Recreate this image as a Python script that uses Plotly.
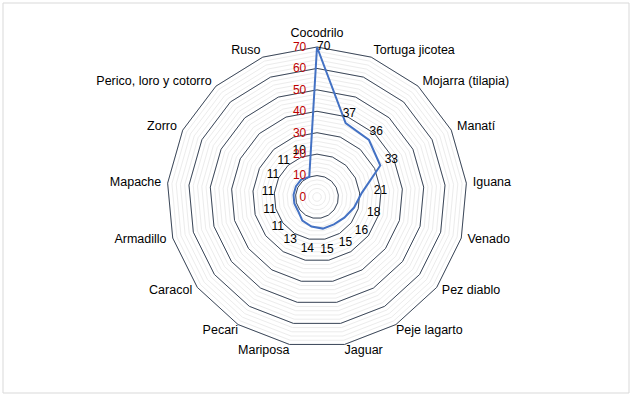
import numpy as np
import plotly.graph_objects as go

categories = ["Cocodrilo", "Tortuga jicotea", "Mojarra (tilapia)", "Manatí", "Iguana",
              "Venado", "Pez diablo", "Peje lagarto", "Jaguar", "Mariposa", "Pecari",
              "Caracol", "Armadillo", "Mapache", "Zorro", "Perico, loro y cotorro", "Ruso"]
values = [70, 37, 36, 33, 21, 18, 16, 15, 15, 14, 13, 11, 11, 11, 11, 11, 10]
major_ticks = [0, 10, 20, 30, 40, 50, 60, 70]
minor_step = 2
r_max = 70

FONT = "Liberation Sans, Arial, sans-serif"
MAJOR_COLOR = "#3B4759"
MINOR_COLOR = "#ECECEC"
LINE_COLOR = "#4472C4"
AXIS_LABEL_COLOR = "#C00000"

# padding (in value units) used to push the category labels off the outer ring
CAT_PAD = 3.0
r_range_max = r_max + CAT_PAD + 0.5

fig = go.Figure()

theta_closed = categories + [categories[0]]

# major grid rings
for v in major_ticks[1:]:
    fig.add_trace(go.Scatterpolar(
        r=[v] * len(theta_closed), theta=theta_closed, mode="lines",
        line=dict(color=MAJOR_COLOR, width=1), hoverinfo="skip", showlegend=False))

# data line
vals = np.array(values, dtype=float)
fig.add_trace(go.Scatterpolar(
    r=list(vals) + [vals[0]], theta=theta_closed, mode="lines",
    line=dict(color=LINE_COLOR, width=2), showlegend=False))

# data labels (placed outward from the points, like Excel does)
label_r = np.where(vals >= r_max, vals, np.maximum(23, vals * 0.75 + 14))
positions = ["middle right" if v >= r_max else "middle center" for v in vals]
fig.add_trace(go.Scatterpolar(
    r=label_r, theta=categories, mode="text", text=[str(v) for v in values],
    textposition=positions, textfont=dict(family=FONT, size=12, color="#000000"),
    hoverinfo="skip", showlegend=False, cliponaxis=False))

# category labels, Excel style placement around the outer ring
n = len(categories)
def cat_pos(i):
    ang = 360.0 * i / n
    if ang < 1:
        return "top center"
    if ang < 140:
        return "middle right"
    if ang < 180:
        return "bottom right"
    if ang < 220:
        return "bottom left"
    return "middle left"

cat_positions = [cat_pos(i) for i in range(n)]
cat_pad = [0.0 if p.startswith("bottom") else CAT_PAD for p in cat_positions]

fig.add_trace(go.Scatterpolar(
    r=[r_max + p for p in cat_pad], theta=categories, mode="text", text=categories,
    textposition=cat_positions,
    textfont=dict(family=FONT, size=12.5, color="#000000"),
    hoverinfo="skip", showlegend=False, cliponaxis=False))

minor_vals = list(range(0, r_max + 1, minor_step))
W, H = 633, 397
cx, cy, R70 = 317, 197, 150
R = R70 * r_range_max / r_max

fig.update_layout(
    width=W, height=H,
    margin=dict(l=0, r=0, t=0, b=0),
    paper_bgcolor="white", plot_bgcolor="white",
    font=dict(family=FONT, size=12, color="#000000"),
    polar=dict(
        domain=dict(x=[(cx - R) / W, (cx + R) / W], y=[(H - cy - R) / H, (H - cy + R) / H]),
        bgcolor="rgba(0,0,0,0)",
        gridshape="linear",
        radialaxis=dict(
            range=[0, r_range_max], tickvals=minor_vals,
            ticktext=[str(v) if v in major_ticks else "" for v in minor_vals],
            showline=False, ticks="outside", ticklen=6, tickcolor="rgba(0,0,0,0)",
            gridcolor=MINOR_COLOR, gridwidth=1,
            angle=90, tickangle=90, side="counterclockwise",
            tickfont=dict(family=FONT, size=12, color=AXIS_LABEL_COLOR)),
        angularaxis=dict(
            direction="clockwise", rotation=90, showgrid=False, showline=False,
            ticks="", showticklabels=False),
    ),
    shapes=[dict(type="rect", xref="paper", yref="paper", x0=3 / W, x1=629 / W,
                 y0=1 - 393 / H, y1=1 - 3 / H, line=dict(color="#D9D9D9", width=1))],
)

fig.write_html("out.html", config={"displayModeBar": False},
               post_script="document.body.style.margin='0';")
